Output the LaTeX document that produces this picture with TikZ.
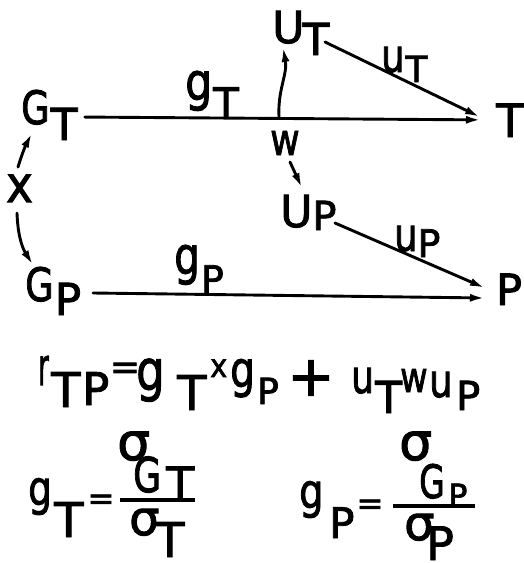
\documentclass[tikz,border=0pt]{standalone}
\usepackage{fontspec}
\setmainfont{DejaVu Sans}[FakeBold=2]
\usetikzlibrary{arrows.meta}
\newcommand{\fs}[1]{\fontsize{#1}{#1}\selectfont}
\newcommand{\dn}[3]{\raisebox{-#1}{\fs{#2}#3}}
\newcommand{\hs}[2]{\scalebox{#1}[1]{#2}}
\begin{document}
\begin{tikzpicture}[x=1pt,y=-1pt,
  lab/.style={inner sep=0pt, anchor=base west},
  sym/.style={inner sep=0pt, anchor=center},
  conn/.style={line width=2.9pt, line cap=round},
  arr/.style={conn,-{Latex[length=15pt,width=8pt]}},
  bar/.style={line width=3.8pt}]
\useasboundingbox (0,0) rectangle (524,563);
% diagram nodes
\node[lab] (GT) at (21,124) {\fs{46}\hs{0.8}{G}\kern1pt\dn{16pt}{44}{T}};
\node[lab] (T) at (496,137) {\fs{46}T};
\node[lab] (UT) at (272,43) {\fs{44}U\kern-2pt\dn{12pt}{44}{T}};
\node[lab] (UP) at (280,227) {\fs{44}U\dn{3pt}{40}{P}};
\node[lab] (GP) at (25,301) {\fs{46}\hs{0.8}{G}\kern1pt\dn{14pt}{44}{P}};
\node[lab] (P) at (496,305) {\fs{43}P};
\node[lab] (X) at (6,202) {\fs{50}\hs{0.9}{x}};
\node[lab] (W) at (270,155) {\fs{44}\hs{0.82}{w}};
\coordinate (J) at (279,117);
% path labels
\node[lab] (gT) at (185,100) {\fs{52}\hs{0.82}{g}\kern1pt\dn{18pt}{42}{T}};
\node[lab] (gP) at (174,274) {\fs{52}\hs{0.78}{g}\kern1pt\dn{19pt}{38}{P}};
\node[lab] (uT) at (381,72) {\fs{46}\hs{0.8}{u}\kern1pt\dn{10pt}{36}{T}};
\node[lab] (uP) at (394,251) {\fs{46}\hs{0.8}{u}\dn{6pt}{38}{P}};
% connectors
\draw[arr,shorten <=7pt,shorten >=15pt] (GT.east |- J) -- ([yshift=-3pt]T.west |- J);
\draw[arr] (J) to[out=93,in=-80] ([shift={(11,4)}]UT.base west);
\draw[arr] ([shift={(53,-1)}]UT.base west) -- ([shift={(-16,-20)}]T.base west);
\draw[arr] ([shift={(20,7)}]W.base west) -- ([shift={(22,-39)}]UP.base west);
\draw[arr] ([shift={(55,-4)}]UP.base west) -- ([shift={(-11,-17)}]P.base west);
\draw[arr] ([shift={(68,-8)}]GP.base west) -- ([shift={(-11,-7)}]P.base west);
\draw[arr] ([shift={(12,-35)}]X.base west) to[bend left=5] ([shift={(11,9)}]GT.base west);
\draw[arr] ([shift={(11,11)}]X.base west) to[bend right=15] ([shift={(8,-36)}]GP.base west);
% equation r_TP = g_T x g_P + u_T w u_P
\node[lab] (e1) at (38,385) {\fs{52}\hs{0.5}{r}};
\node[lab] (e2) at (51,407) {\fs{48}T};
\node[lab] (e3) at (82,405) {\fs{45}P};
\node[sym] (e4) at (125,371) {\fs{36}=};
\node[lab] (e5) at (136,390) {\fs{56}\hs{0.8}{g}};
\node[lab] (e6) at (177,410) {\fs{48}T};
\node[lab] (e7) at (210,377) {\fs{32}\hs{0.9}{x}};
\node[lab] (e8) at (230,387) {\fs{50}\hs{0.78}{g}};
\node[lab] (e9) at (257,404) {\fs{36}P};
\node[sym] (e10) at (311,378) {\fs{56}+};
\node[lab] (e11) at (351,393) {\fs{46}\hs{0.78}{u}};
\node[lab] (e12) at (375,413) {\fs{44}T};
\node[lab] (e13) at (400,392) {\fs{42}\hs{0.8}{w}};
\node[lab] (e14) at (429,397) {\fs{46}\hs{0.8}{u}};
\node[lab] (e15) at (456,410) {\fs{40}P};
% g_T = sigma_GT / sigma_T
\node[lab] (f1) at (28,505) {\fs{48}\hs{0.78}{g}};
\node[lab] (f2) at (54,537) {\fs{48}T};
\node[sym] (f3) at (101,502) {\fs{32}=};
\draw[bar] (120,500) -- (195,500);
\node[lab] (f5) at (117,460) {\fs{52}σ};
\node[lab] (f6) at (133,492) {\fs{48}\hs{0.75}{G}};
\node[lab] (f7) at (166,500) {\fs{46}T};
\node[lab] (f8) at (129,535) {\fs{48}σ};
\node[lab] (f9) at (155,557) {\fs{48}T};
% g_P = sigma_GP / sigma_P
\node[lab] (h1) at (299,508) {\fs{48}\hs{0.8}{g}};
\node[lab] (h2) at (329,538) {\fs{42}P};
\node[sym] (h3) at (370,507) {\fs{32}=};
\draw[bar] (393,506) -- (475,506);
\node[lab] (h5) at (399,460) {\fs{52}σ};
\node[lab] (h6) at (419,498) {\fs{46}\hs{0.72}{G}};
\node[lab] (h7) at (448,507) {\fs{32}P};
\node[lab] (h8) at (404,540) {\fs{48}σ};
\node[lab] (h9) at (426,560) {\fs{46}P};
\end{tikzpicture}
\end{document}
